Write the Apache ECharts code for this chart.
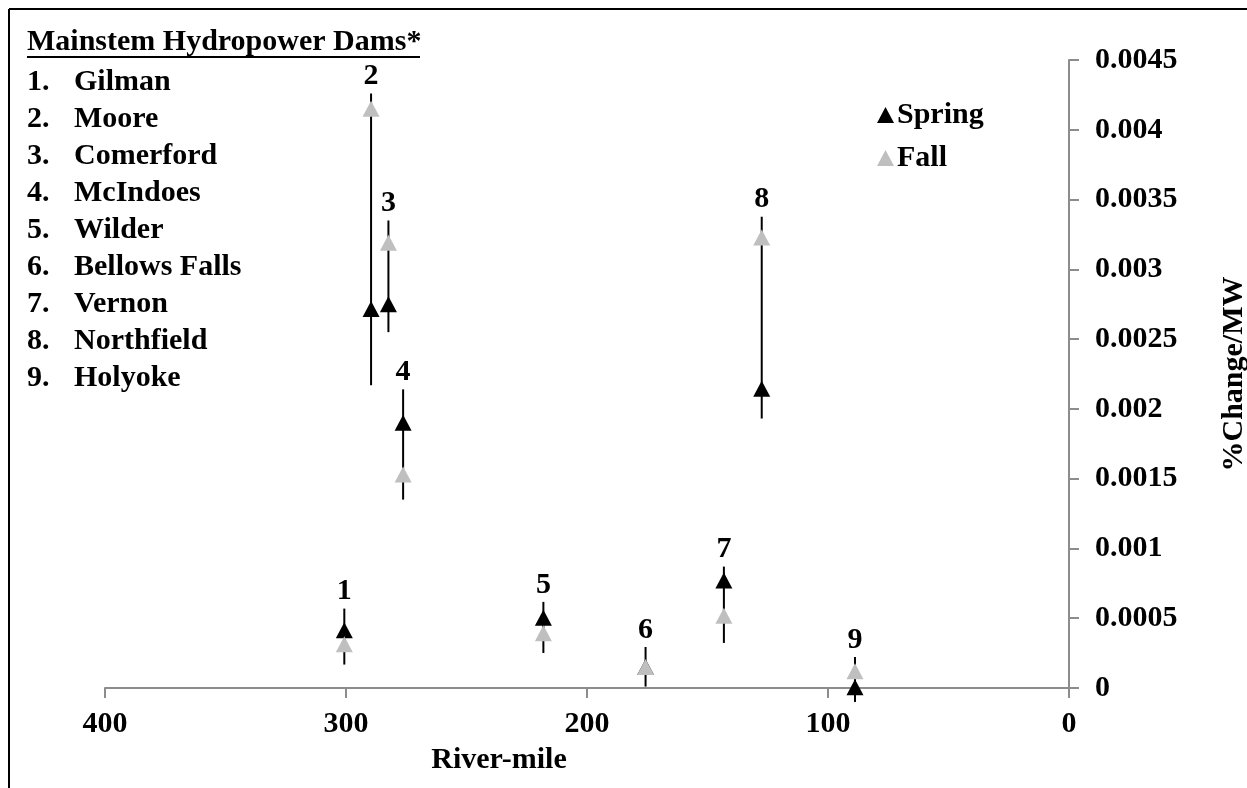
<!DOCTYPE html>
<html>
<head>
<meta charset="utf-8">
<script src="https://cdn.jsdelivr.net/npm/echarts@6/dist/echarts.min.js"></script>
<style>
  html, body { margin: 0; padding: 0; background: #fff; }
  #chart { width: 1247px; height: 788px; }
</style>
</head>
<body>
<div id="chart"></div>
<script>
// Mainstem hydropower dams along the river, upstream to downstream
const damNames = ['Gilman', 'Moore', 'Comerford', 'McIndoes', 'Wilder', 'Bellows Falls', 'Vernon', 'Northfield', 'Holyoke'];
const damLabels = ['1', '2', '3', '4', '5', '6', '7', '8', '9'];
const riverMile = [300.7, 289.6, 282.4, 276.3, 218.1, 175.7, 143.2, 127.5, 88.8];

// %Change per MW for each season
const springValues = [0.000414, 0.002715, 0.00275, 0.0019, 0.000503, 0.00015, 0.00077, 0.002145, 0.000005];
const fallValues   = [0.000313, 0.00415, 0.00319, 0.00153, 0.000392, 0.000151, 0.000518, 0.003228, 0.00012];

// vertical extent of the bar drawn through each dam's pair of points
const rangeLow  = [0.000168, 0.00217, 0.00255, 0.00135, 0.000251, 0.00001, 0.000323, 0.001931, -0.0001];
const rangeHigh = [0.000569, 0.00426, 0.00335, 0.00214, 0.000617, 0.000294, 0.00087, 0.003377, 0.000222];

const xTickLabels = ['0', '100', '200', '300', '400'];
const yTickLabels = ['0', '0.0005', '0.001', '0.0015', '0.002', '0.0025', '0.003', '0.0035', '0.004', '0.0045'];

const FONT = '"Liberation Serif", "Times New Roman", serif';
const AXIS_GREY = '#8c8c8c';

const chart = echarts.init(document.getElementById('chart'), null, { renderer: 'canvas' });

const rangeData = riverMile.map((m, i) => [m, rangeLow[i], rangeHigh[i]]);
const springData = riverMile.map((m, i) => [m, springValues[i]]);
const fallData = riverMile.map((m, i) => [m, fallValues[i]]);

// left-hand list of dams
const listGraphics = [];
listGraphics.push({
  type: 'text', left: 27, top: 27,
  style: { text: 'Mainstem Hydropower Dams*', font: 'bold 30px ' + FONT, fill: '#000' }
});
damNames.forEach((name, i) => {
  const y = 82 + i * 37;
  listGraphics.push({
    type: 'text', x: 27, y: y,
    style: { text: damLabels[i] + '.', font: 'bold 30px ' + FONT, fill: '#000', verticalAlign: 'middle' }
  });
  listGraphics.push({
    type: 'text', x: 74, y: y,
    style: { text: name, font: 'bold 30px ' + FONT, fill: '#000', verticalAlign: 'middle' }
  });
});

const option = {
  backgroundColor: '#fff',
  animation: false,
  grid: { left: 105, right: 178, top: 60, bottom: 100, containLabel: false },
  legend: {
    data: ['Spring', 'Fall'],
    orient: 'vertical',
    left: 872, top: 95,
    icon: 'triangle',
    itemWidth: 17, itemHeight: 16,
    itemGap: 13,
    textStyle: { fontFamily: FONT, fontWeight: 'bold', fontSize: 30, color: '#000', padding: [0, 0, 0, -2] }
  },
  xAxis: {
    type: 'value',
    min: 0, max: 400, interval: 100,
    inverse: true,
    splitLine: { show: false },
    axisLine: { lineStyle: { color: AXIS_GREY, width: 2 } },
    axisTick: { show: true, length: 10, lineStyle: { color: AXIS_GREY, width: 2 } },
    axisLabel: {
      margin: 21,
      fontFamily: FONT, fontWeight: 'bold', fontSize: 30, color: '#000',
      formatter: v => xTickLabels[Math.round(v / 100)]
    }
  },
  yAxis: {
    type: 'value',
    position: 'right',
    min: 0, max: 0.0045, interval: 0.0005,
    splitLine: { show: false },
    axisLine: { show: true, lineStyle: { color: AXIS_GREY, width: 2 } },
    axisTick: { show: true, length: 10, lineStyle: { color: AXIS_GREY, width: 2 } },
    axisLabel: {
      margin: 26,
      fontFamily: FONT, fontWeight: 'bold', fontSize: 30, color: '#000',
      formatter: v => yTickLabels[Math.round(v / 0.0005)]
    }
  },
  graphic: [
    // chart frame (top and left edges)
    { type: 'line', shape: { x1: 9, y1: 9, x2: 1247, y2: 9 }, style: { stroke: '#000', lineWidth: 2 } },
    { type: 'line', shape: { x1: 9, y1: 9, x2: 9, y2: 788 }, style: { stroke: '#000', lineWidth: 2 } },
    // underline of the list heading
    { type: 'line', shape: { x1: 27, y1: 57, x2: 420, y2: 57 }, style: { stroke: '#000', lineWidth: 2 } },
    ...listGraphics,
    // axis titles
    {
      type: 'text', x: 499, y: 760,
      style: { text: 'River-mile', font: 'bold 30px ' + FONT, fill: '#000', align: 'center', verticalAlign: 'middle' }
    },
    {
      type: 'text', x: 1234, y: 374, rotation: Math.PI / 2,
      style: { text: '%Change/MW', font: 'bold 30px ' + FONT, fill: '#000', align: 'center', verticalAlign: 'middle' }
    }
  ],
  series: [
    {
      name: 'range',
      type: 'custom',
      data: rangeData,
      encode: { x: 0, y: [1, 2] },
      clip: false,
      z: 2,
      renderItem: (params, api) => {
        const x = api.value(0);
        const lo = api.coord([x, api.value(1)]);
        const hi = api.coord([x, api.value(2)]);
        return {
          type: 'group',
          children: [
            { type: 'line', shape: { x1: lo[0], y1: lo[1], x2: hi[0], y2: hi[1] }, style: { stroke: '#000', lineWidth: 2 } },
            {
              type: 'text', x: hi[0], y: hi[1] - 17,
              style: { text: damLabels[params.dataIndex], font: 'bold 30px ' + FONT, fill: '#000', align: 'center', verticalAlign: 'middle' }
            }
          ]
        };
      }
    },
    {
      name: 'Spring',
      type: 'scatter',
      data: springData,
      symbol: 'triangle',
      symbolSize: [17, 16],
      itemStyle: { color: '#000', opacity: 1 },
      z: 3
    },
    {
      name: 'Fall',
      type: 'scatter',
      data: fallData,
      symbol: 'triangle',
      symbolSize: [17, 16],
      itemStyle: { color: '#bfbfbf', opacity: 1 },
      z: 4
    }
  ]
};

chart.setOption(option);
</script>
</body>
</html>
